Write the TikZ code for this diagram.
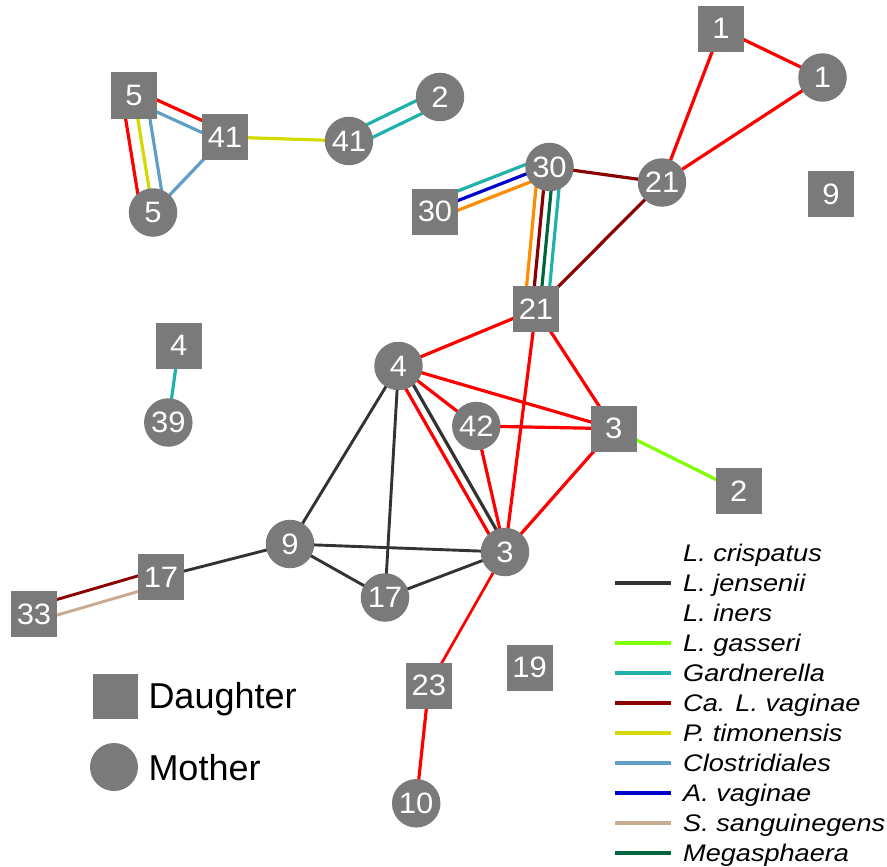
\documentclass[tikz,border=0pt]{standalone}
\usepackage{fontspec}
\setmainfont{Liberation Sans}
\newfontfamily\legendfont[FakeStretch=1.13]{Liberation Sans}
\newfontfamily\labelfont[FakeStretch=1.05]{Liberation Sans}
\usetikzlibrary{calc}

\definecolor{nodegray}{RGB}{122,122,122}
\definecolor{cred}{RGB}{255,0,0}
\definecolor{cblack}{RGB}{51,51,51}
\definecolor{clime}{RGB}{127,255,0}
\definecolor{cteal}{RGB}{32,178,170}
\definecolor{cdkred}{RGB}{139,0,0}
\definecolor{cyell}{RGB}{210,218,0}
\definecolor{cclos}{RGB}{96,158,198}
\definecolor{cblue}{RGB}{0,0,205}
\definecolor{ctan}{RGB}{200,170,145}
\definecolor{cgreen}{RGB}{0,100,60}
\definecolor{corange}{RGB}{255,140,0}

\pgfdeclarelayer{edges}
\pgfsetlayers{edges,main}

\tikzset{
  daughter/.style={rectangle, fill=nodegray, minimum size=46pt, inner sep=0pt,
    text=white, font=\labelfont\fontsize{29.5}{29.5}\selectfont},
  mother/.style={circle, fill=nodegray, minimum size=48.5pt, inner sep=0pt,
    text=white, font=\labelfont\fontsize{29.5}{29.5}\selectfont},
  link/.style={line width=3.2pt},
  legtext/.style={anchor=base west, inner sep=0pt,
    font=\legendfont\itshape\fontsize{24}{24}\selectfont},
  keytext/.style={anchor=base west, inner sep=0pt,
    font=\fontsize{36}{36}\selectfont},
}

% parallel connector between two nodes, shifted sideways by #4 pt
\newcommand\link[5][]{%
  \draw[link,#5,#1] ($(#2)!#4pt!90:(#3)$) -- ($(#3)!#4pt!-90:(#2)$);}

\begin{document}
\begin{tikzpicture}[x=1pt,y=-1pt]
\useasboundingbox (0,0) rectangle (887,867);

% daughters
\node[daughter] (D1)  at (721,28.7)  {1};
\node[daughter] (D9)  at (831,194)   {9};
\node[daughter] (D30) at (435,211.7) {30};
\node[daughter] (D21) at (536,309)   {21};
\node[daughter] (D5)  at (134,95.5)  {5};
\node[daughter] (D41) at (225,137)   {41};
\node[daughter] (D4)  at (178.8,345.8) {4};
\node[daughter] (D3)  at (613.8,428.7) {3};
\node[daughter] (D2)  at (738.8,490.8) {2};
\node[daughter] (D17) at (161,577)   {17};
\node[daughter] (D33) at (34,614)    {33};
\node[daughter] (D23) at (428.8,685.7) {23};
\node[daughter] (D19) at (529.7,667.7) {19};

% mothers
\node[mother] (M1)  at (822.5,77.5) {1};
\node[mother] (M21) at (662,182.5)  {21};
\node[mother] (M30) at (549.5,167)  {30};
\node[mother] (M5)  at (153,212.5)  {5};
\node[mother] (M41) at (349,141)    {41};
\node[mother] (M2)  at (440,97)     {2};
\node[mother] (M39) at (168.3,422.5) {39};
\node[mother] (M4)  at (398.5,366)  {4};
\node[mother] (M42) at (476.3,426)  {42};
\node[mother] (M3)  at (505,552)    {3};
\node[mother] (M9)  at (290,544)    {9};
\node[mother] (M17) at (385,597.5)  {17};
\node[mother] (M10) at (416.2,803.3) {10};

\begin{pgfonlayer}{edges}
  % top right group
  \link{D1}{M1}{0}{cred}
  \link{D1}{M21}{0}{cred}
  \link{M1}{M21}{0}{cred}
  \link{M30}{M21}{0}{cdkred}
  \link{M21}{D21}{0}{cdkred}
  \link{D30}{M30}{11}{cteal}
  \link{D30}{M30}{2}{cblue}
  \link{D30}{M30}{-7}{corange}
  \link{M30}{D21}{-11.5}{corange}
  \link{M30}{D21}{-3.8}{cdkred}
  \link{M30}{D21}{3.8}{cgreen}
  \link{M30}{D21}{11.5}{cteal}
  % central group
  \link{D21}{M4}{0}{cred}
  \link{D21}{M3}{0}{cred}
  \link{D21}{D3}{0}{cred}
  \link{M4}{D3}{0}{cred}
  \link{M4}{M42}{0}{cred}
  \link{M4}{M3}{-5}{cred}
  \link{M4}{M3}{3.5}{cblack}
  \link{M42}{D3}{0}{cred}
  \link{M42}{M3}{0}{cred}
  \link{D3}{M3}{0}{cred}
  \link{D3}{D2}{0}{clime}
  \link[line width=2.9pt]{M4}{M9}{0}{cblack}
  \link[line width=2.9pt]{M4}{M17}{0}{cblack}
  \link[line width=2.9pt]{M9}{M3}{0}{cblack}
  \link[line width=2.9pt]{M9}{M17}{0}{cblack}
  \link[line width=2.9pt]{M17}{M3}{0}{cblack}
  \link[line width=2.9pt]{M9}{D17}{0}{cblack}
  \link[line width=2.9pt]{D33}{D17}{7.5}{cdkred}
  \link[line width=2.9pt]{D33}{D17}{-7.5}{ctan}
  \link[line width=2.7pt]{M3}{D23}{0}{cred}
  \link{D23}{M10}{0}{cred}
  \link{D4}{M39}{0}{cteal}
  % top left group
  \link{D5}{D41}{5.5}{cred}
  \link{D5}{D41}{-5.5}{cclos}
  \link{D5}{M5}{-12}{cred}
  \link{D5}{M5}{0}{cyell}
  \link{D5}{M5}{12}{cclos}
  \link{D41}{M5}{0}{cclos}
  \link{D41}{M41}{0}{cyell}
  \link{M41}{M2}{7}{cteal}
  \link{M41}{M2}{-7}{cteal}
\end{pgfonlayer}

% shape key
\node[daughter, minimum size=45pt] (kD) at (115.8,696.7) {};
\node[keytext] (kDt) at (148.3,708.3) {Daughter};
\node[mother, minimum size=48pt] (kM) at (114,767) {};
\node[keytext] (kMt) at (148.3,780) {Mother};

% colour key
\foreach \name/\col [count=\i from 0] in {
  L. crispatus/none, L. jensenii/cblack, L. iners/none, L. gasseri/clime,
  Gardnerella/cteal, Ca. L. vaginae/cdkred, P. timonensis/cyell,
  Clostridiales/cclos, A. vaginae/cblue, S. sanguinegens/ctan,
  Megasphaera/cgreen}{
  \node[legtext] (leg\i) at (683,{561.7+30*\i}) {\name};
  \draw[link,draw=\col] (615,{553+30*\i}) -- (671,{553+30*\i});
}
\end{tikzpicture}
\end{document}
